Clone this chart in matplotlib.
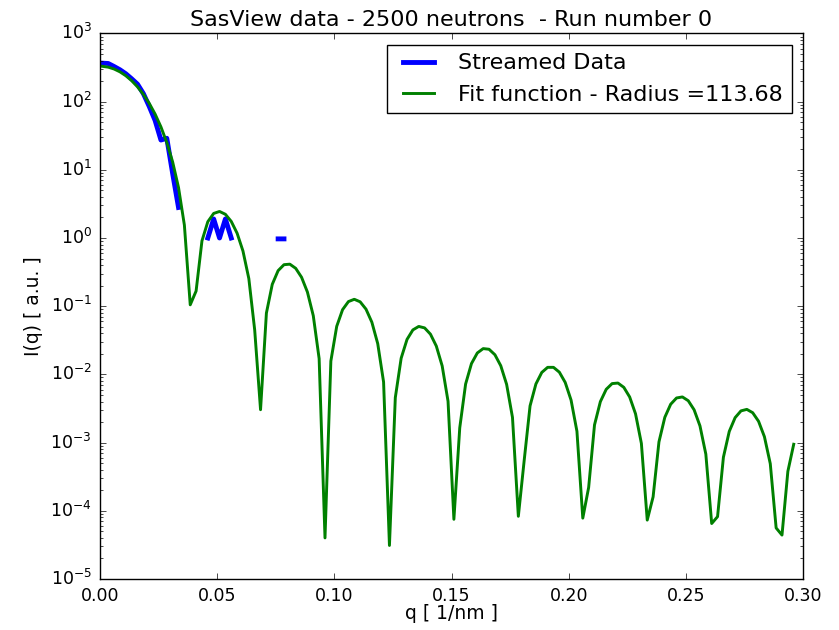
import numpy as np
import matplotlib
matplotlib.use('Agg')
import matplotlib.pyplot as plt

# q points of the run (1/nm)
q = [0.001, 0.0035, 0.006, 0.0085, 0.011, 0.0135, 0.016, 0.0185, 0.021, 0.0235,
     0.026, 0.0285, 0.031, 0.0335, 0.036, 0.0385, 0.041, 0.0435, 0.046, 0.0485,
     0.051, 0.0535, 0.056, 0.0585, 0.061, 0.0635, 0.066, 0.0685, 0.071, 0.0735,
     0.076, 0.0785, 0.081, 0.0835, 0.086, 0.0885, 0.091, 0.0935, 0.096, 0.0985,
     0.101, 0.1035, 0.106, 0.1085, 0.111, 0.1135, 0.116, 0.1185, 0.121, 0.1235,
     0.126, 0.1285, 0.131, 0.1335, 0.136, 0.1385, 0.141, 0.1435, 0.146, 0.1485,
     0.151, 0.1535, 0.156, 0.1585, 0.161, 0.1635, 0.166, 0.1685, 0.171, 0.1735,
     0.176, 0.1785, 0.181, 0.1835, 0.186, 0.1885, 0.191, 0.1935, 0.196, 0.1985,
     0.201, 0.2035, 0.206, 0.2085, 0.211, 0.2135, 0.216, 0.2185, 0.221, 0.2235,
     0.226, 0.2285, 0.231, 0.2335, 0.236, 0.2385, 0.241, 0.2435, 0.246, 0.2485,
     0.251, 0.2535, 0.256, 0.2585, 0.261, 0.2635, 0.266, 0.2685, 0.271, 0.2735,
     0.276, 0.2785, 0.281, 0.2835, 0.286, 0.2885, 0.291, 0.2935, 0.296]

# fit function values I(q)
fit_I = [329.1, 319.7, 300.5, 273.1, 239.6, 202.6, 164.5, 127.7, 94.3, 65.65,
         42.52, 25.10, 13.01, 5.489, 1.546, 0.1047, 0.1668, 0.9071, 1.732, 2.291,
         2.448, 2.226, 1.749, 1.174, 0.6436, 0.2540, 0.04486, 0.003033, 0.07928, 0.2090,
         0.3320, 0.4059, 0.4131, 0.3590, 0.2654, 0.1611, 0.07253, 0.01703, 4.0e-5, 0.01567,
         0.05061, 0.08889, 0.1168, 0.1262, 0.1159, 0.09039, 0.05816, 0.02824, 0.007728, 3.1e-5,
         0.004553, 0.01727, 0.03255, 0.04488, 0.05047, 0.04804, 0.03885, 0.02601, 0.01331, 0.004038,
         7.5e-5, 0.001647, 0.007221, 0.01440, 0.02061, 0.02388, 0.02336, 0.01941, 0.01339, 0.007135,
         0.002339, 8.3e-5, 5.5e-4, 0.003454, 0.007237, 0.01068, 0.01268, 0.01268, 0.01077, 0.007617,
         0.004194, 0.001464, 7.8e-5, 2.2e-4, 0.001816, 0.003983, 0.006041, 0.007324, 0.007460, 0.006457,
         0.004664, 0.002642, 9.728e-4, 7.3e-5, 1.6e-4, 0.001024, 0.002347, 0.003649, 0.004508, 0.004669,
         0.004108, 0.003024, 0.001756, 6.774e-4, 6.5e-5, 8.2e-5, 6.094e-4, 0.001458, 0.002321, 0.002917,
         0.003068, 0.002740, 0.002051, 0.001219, 4.899e-4, 5.6e-5, 4.4e-5, 3.782e-4, 9.446e-4]

# streamed data (nan = no counts)
nan = np.nan
data_I = [366, 362, 327, 293, 256, 216, 180, 131, 85, 53,
          27.3, 29, 8.8, 2.8, nan, nan, nan, nan, 1.0, 1.9,
          1.0, 1.9, 1.0, nan, nan, nan, nan, nan, nan, nan,
          0.97, 0.97]

radius = 113.68

plt.style.use('classic')
plt.rcParams['figure.facecolor'] = 'white'
plt.rcParams['savefig.facecolor'] = 'white'
plt.rcParams['mathtext.fontset'] = 'dejavusans'
plt.rcParams['font.family'] = ['DejaVu Sans']

fig = plt.figure(figsize=(8.39, 6.3), dpi=100)
ax = fig.add_axes([0.1192, 0.081, 0.838, 0.866])

ax.plot(q[:len(data_I)], data_I, color='b', lw=3.5, solid_capstyle='projecting',
        label='Streamed Data')
ax.plot(q, fit_I, color='g', lw=2.1, label='Fit function - Radius =%.2f' % radius)

ax.set_yscale('log')
ax.set_xlim(0.0, 0.30)
ax.set_ylim(1e-5, 1e3)
ax.set_xticks([0.0, 0.05, 0.10, 0.15, 0.20, 0.25, 0.30])
ax.tick_params(which='major', length=4.2, labelsize=12.5, pad=6)
ax.tick_params(which='minor', length=2.1)

ax.set_title('SasView data - 2500 neutrons  - Run number 0', fontsize=16)
ax.set_xlabel('q [ 1/nm ]', fontsize=13.5, labelpad=-1)
ax.set_ylabel('I(q) [ a.u. ]', fontsize=13.5)

leg = ax.legend(loc='upper right', fontsize=16, numpoints=2)
leg.get_frame().set_linewidth(1.0)

fig.savefig('out.png', dpi=100)
